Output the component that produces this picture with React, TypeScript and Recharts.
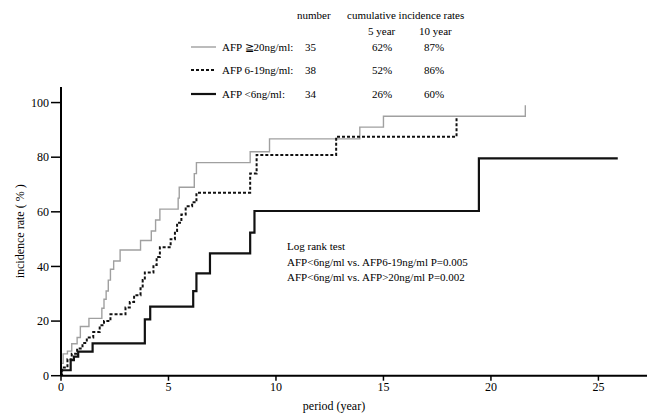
import React from "react";
import { LineChart, Line, XAxis, YAxis } from "recharts";

// AFP >= 20 ng/ml (gray)
const highX = [0, 0, 0.1, 0.3, 0.5, 0.75, 0.9, 1.3, 1.9, 2.0, 2.1, 2.2, 2.3, 2.45, 2.75, 3.7, 4.2, 4.4, 4.6, 5.45, 5.5, 6.2, 6.3, 8.8, 9.7, 13.9, 15.0, 21.6];
const highY = [0, 4.5, 8, 9, 11.7, 14, 18, 21, 24.7, 28, 31, 35, 39, 42, 46, 49.5, 53, 57, 61, 65, 69, 74, 78, 82, 86.7, 91, 95, 99];
// AFP 6-19 ng/ml (dashed)
const midX = [0, 0.05, 0.3, 0.5, 0.75, 1.0, 1.2, 1.5, 1.8, 2.0, 2.3, 3.0, 3.2, 3.4, 3.7, 3.8, 3.9, 4.3, 4.45, 4.6, 5.1, 5.3, 5.4, 5.6, 5.8, 6.1, 6.3, 8.8, 9.1, 12.8, 18.4];
const midY = [0, 3, 6, 8, 10, 12, 14, 16, 18.5, 20, 22.5, 25, 27, 29.5, 32, 35, 37.8, 40.5, 43.5, 47, 50, 53, 56, 59, 62, 63.5, 67, 74, 80.8, 87.5, 94.5];
// AFP < 6 ng/ml (solid black)
const lowX = [0, 0.02, 0.45, 0.6, 0.8, 1.47, 3.9, 4.15, 6.15, 6.3, 6.93, 8.8, 9.0, 19.44, 25.9];
const lowY = [0, 2, 5.7, 7, 8.8, 11.8, 20.6, 25.3, 31, 37.5, 44.8, 52.4, 60.3, 79.6, 79.6];

const xTicks = [0, 5, 10, 15, 20, 25];
const yTicks = [0, 20, 40, 60, 80, 100];

const legendLabels = ["AFP \u226720ng/ml:", "AFP 6-19ng/ml:", "AFP <6ng/ml:"];
const legendNumbers = ["35", "38", "34"];
const rate5 = ["62%", "52%", "26%"];
const rate10 = ["87%", "86%", "60%"];
const logRank = [
  "Log rank test",
  "AFP<6ng/ml vs. AFP6-19ng/ml  P=0.005",
  "AFP<6ng/ml vs. AFP>20ng/ml  P=0.002",
];

const toPts = (xs: number[], ys: number[]) => xs.map((x, i) => ({ x, y: ys[i] }));
const highData = toPts(highX, highY);
const midData = toPts(midX, midY);
const lowData = toPts(lowX, lowY);

const FONT = "Liberation Serif, DejaVu Serif, Times New Roman, Times, Noto Serif, serif";
const styles = [
  { stroke: "#a0a0a0", width: 1.4, dash: undefined as string | undefined },
  { stroke: "#111", width: 2, dash: "3 2" },
  { stroke: "#111", width: 2.2, dash: undefined as string | undefined },
];

export default function App() {
  const rowY = [47, 70, 94];
  return (
    <div style={{ position: "absolute", left: 0, top: 0, width: 647, height: 414, background: "#fff", fontFamily: FONT }}>
      <LineChart width={647} height={414} margin={{ top: 87, right: 0, bottom: 0, left: 0 }} style={{ fontFamily: FONT }}>
        <XAxis
          type="number"
          dataKey="x"
          domain={[0, 27.26]}
          ticks={xTicks}
          allowDataOverflow
          height={38.3}
          axisLine={{ stroke: "#000", strokeWidth: 2 }}
          tickLine={{ stroke: "#000", strokeWidth: 1.5 }}
          tickSize={5}
          tick={{ fill: "#000", fontSize: 12, style: { fontFamily: FONT } }}
          label={{ value: "period (year)", position: "insideBottom", offset: 4, dx: -20, fill: "#000", fontSize: 12, style: { fontFamily: FONT } }}
        />
        <YAxis
          type="number"
          dataKey="y"
          domain={[0, 105.7]}
          ticks={yTicks}
          allowDataOverflow
          width={61}
          axisLine={{ stroke: "#000", strokeWidth: 2 }}
          tickLine={{ stroke: "#000", strokeWidth: 1.5 }}
          tickSize={10}
          tick={{ fill: "#000", fontSize: 12, style: { fontFamily: FONT } }}
          label={{ value: "incidence rate ( % )", angle: -90, position: "insideLeft", offset: 20, fill: "#000", fontSize: 12, style: { textAnchor: "middle", fontFamily: FONT } }}
        />
        <Line data={highData} dataKey="y" type="stepAfter" stroke={styles[0].stroke} strokeWidth={styles[0].width} dot={false} isAnimationActive={false} />
        <Line data={midData} dataKey="y" type="stepAfter" stroke={styles[1].stroke} strokeWidth={styles[1].width} strokeDasharray={styles[1].dash} dot={false} isAnimationActive={false} />
        <Line data={lowData} dataKey="y" type="stepAfter" stroke={styles[2].stroke} strokeWidth={styles[2].width} dot={false} isAnimationActive={false} />
      </LineChart>
      <svg width={647} height={414} style={{ position: "absolute", left: 0, top: 0, pointerEvents: "none", fontFamily: FONT }}>
        <g fontSize={11} fill="#000" style={{ fontFamily: FONT }}>
          <text x={297} y={19}>number</text>
          <text x={347} y={19}>cumulative incidence rates</text>
          <text x={368} y={35}>5 year</text>
          <text x={419} y={35}>10 year</text>
          {legendLabels.map((lab, i) => (
            <g key={i}>
              <line x1={191} x2={216} y1={rowY[i]} y2={rowY[i]} stroke={styles[i].stroke} strokeWidth={styles[i].width} strokeDasharray={styles[i].dash} />
              <text x={222} y={rowY[i] + 4}>{lab}</text>
              <text x={305} y={rowY[i] + 4}>{legendNumbers[i]}</text>
              <text x={372} y={rowY[i] + 4}>{rate5[i]}</text>
              <text x={424} y={rowY[i] + 4}>{rate10[i]}</text>
            </g>
          ))}
          {logRank.map((t, i) => (
            <text key={i} x={287} y={250 + i * 15.5}>{t}</text>
          ))}
        </g>
      </svg>
    </div>
  );
}
